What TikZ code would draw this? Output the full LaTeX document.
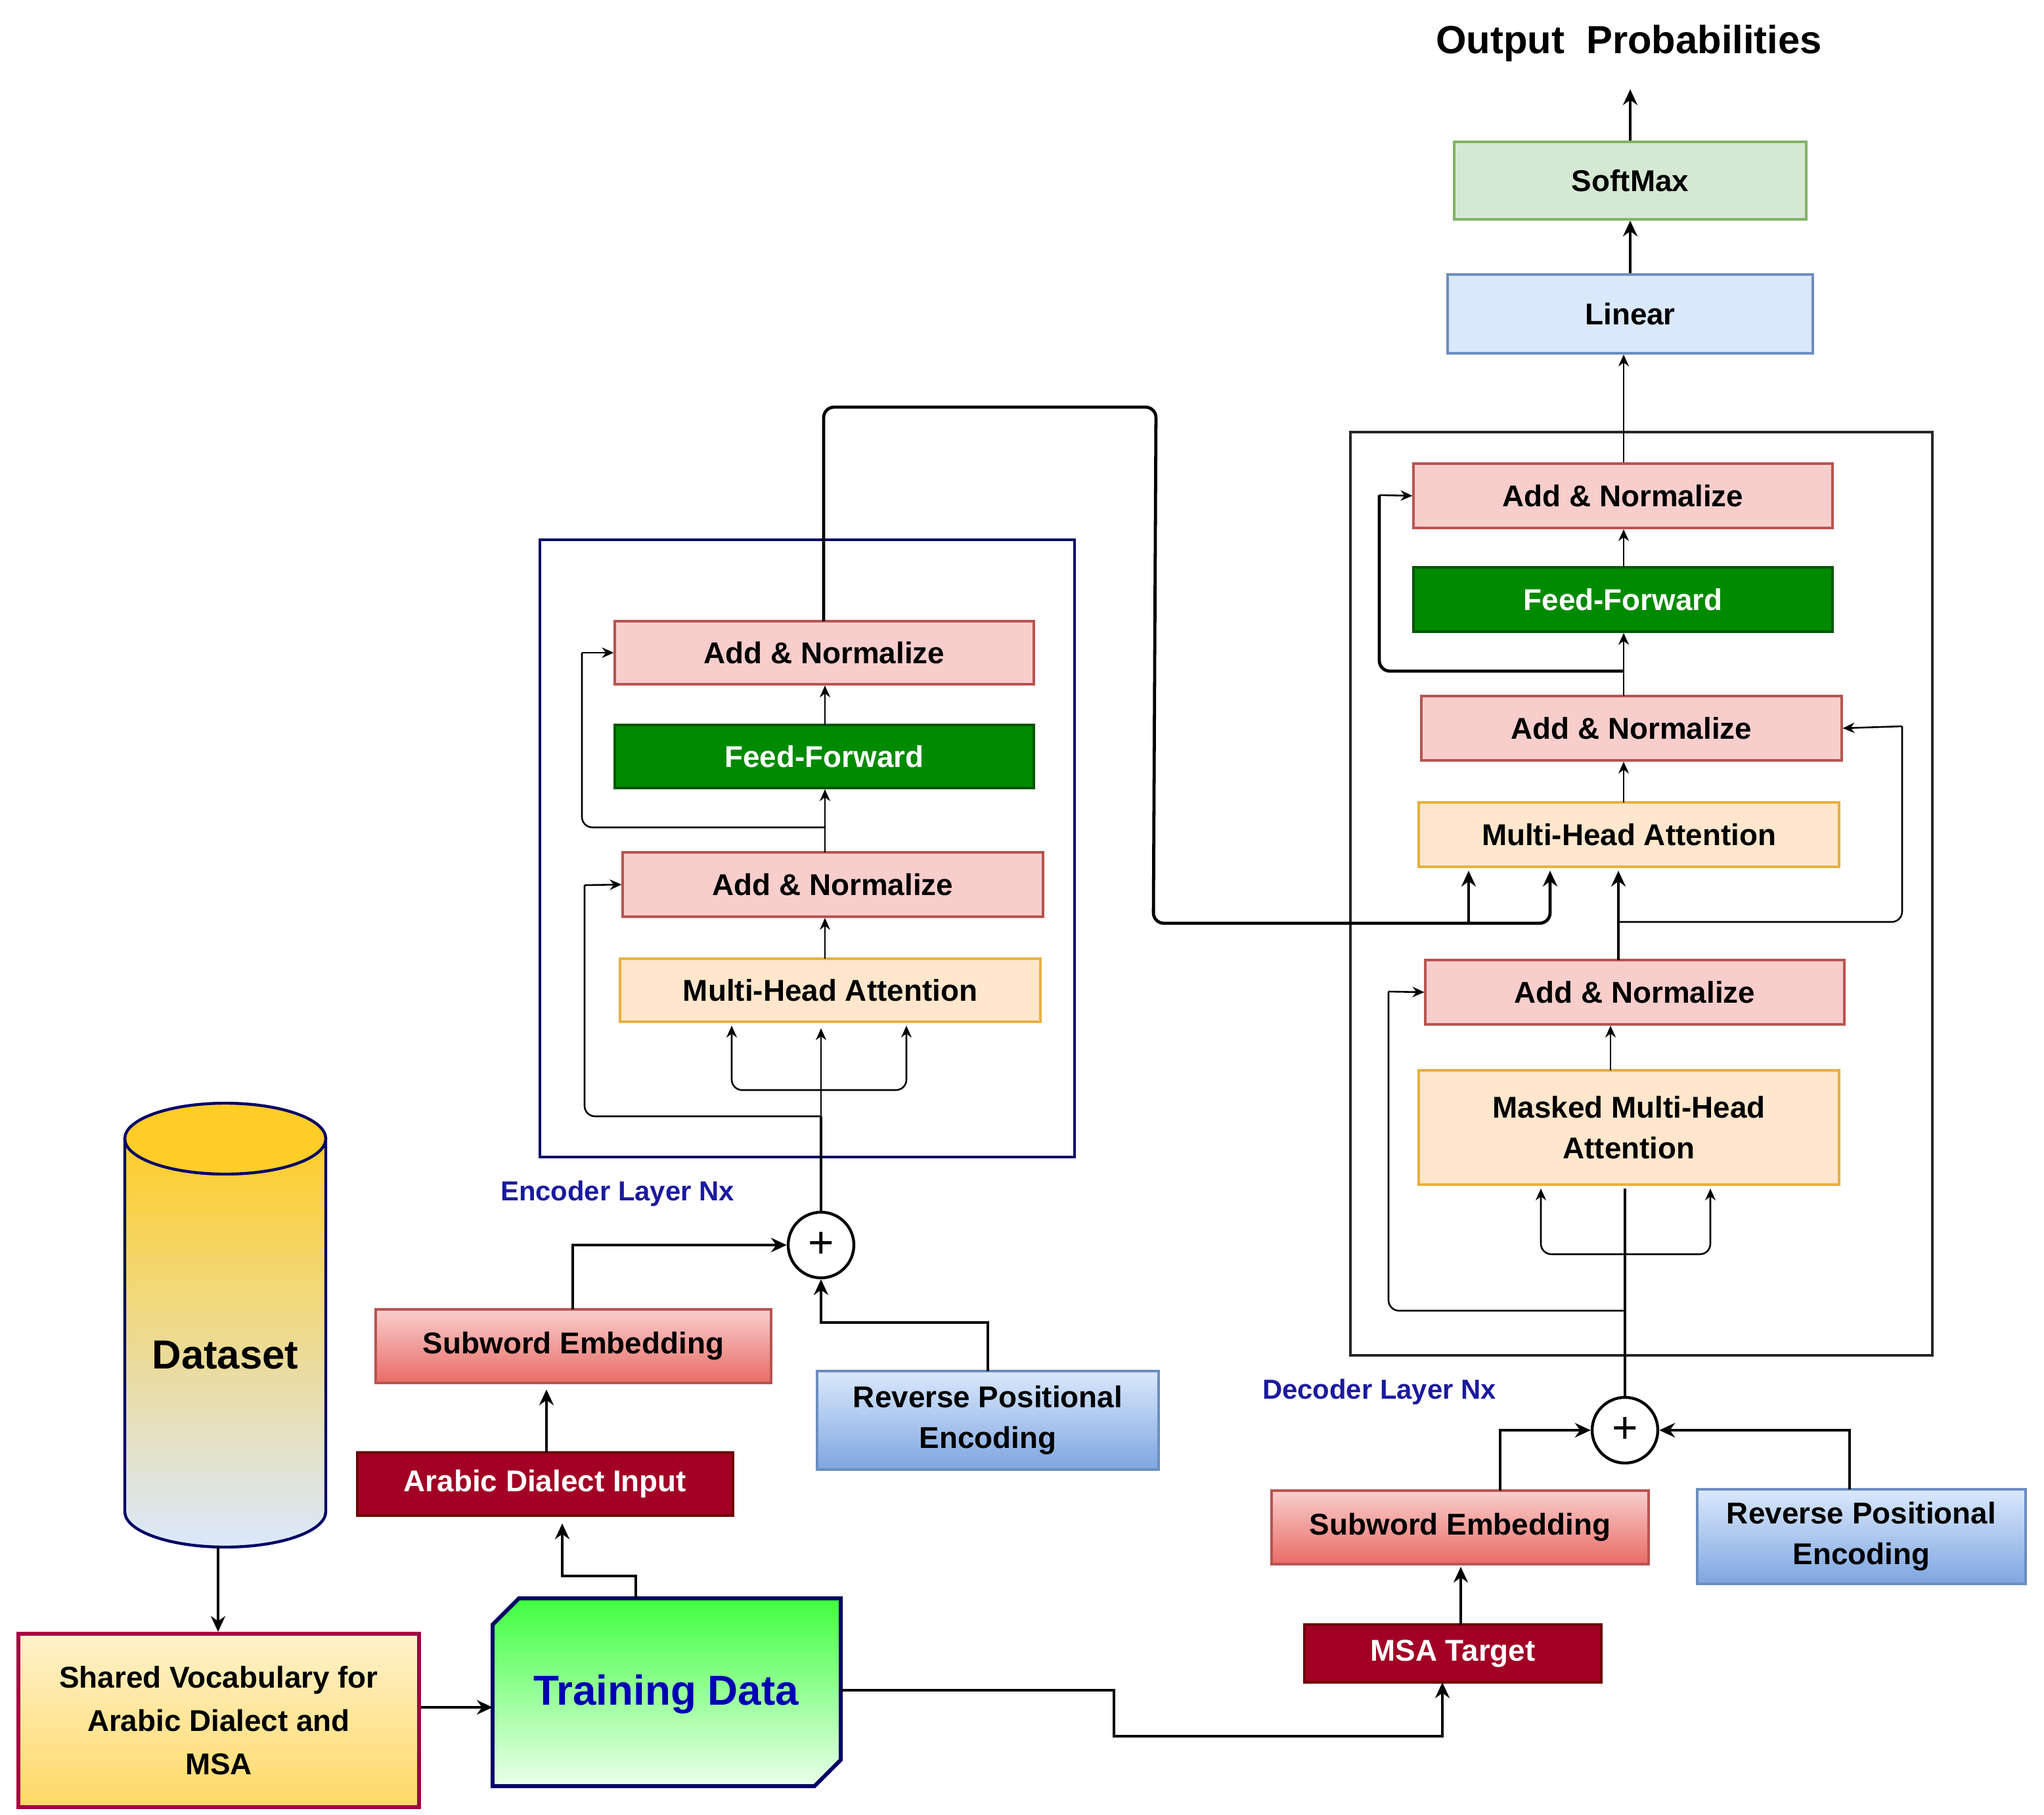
\documentclass[tikz,border=0pt]{standalone}
\usepackage{fontspec}
\setmainfont{Liberation Sans}
\usetikzlibrary{arrows.meta}
\definecolor{navy}{HTML}{000066}
\definecolor{dblue}{HTML}{1A1AA0}
\definecolor{anf}{HTML}{F8CECC}\definecolor{and}{HTML}{B85450}
\definecolor{mhf}{HTML}{FFE6CC}\definecolor{mhd}{HTML}{E8B040}
\definecolor{lbf}{HTML}{DAE8FC}\definecolor{lbd}{HTML}{6C8EBF}\definecolor{lbb}{HTML}{7EA6E0}
\definecolor{smf}{HTML}{D5E8D4}\definecolor{smd}{HTML}{82B366}
\definecolor{swb}{HTML}{EA6B66}
\definecolor{inpf}{HTML}{A20025}\definecolor{inpd}{HTML}{6F0000}
\definecolor{ffg}{HTML}{008A00}\definecolor{ffd}{HTML}{005700}
\definecolor{cyl}{HTML}{FFCD28}
\definecolor{svt}{HTML}{FFF2CC}\definecolor{svb}{HTML}{FFD966}\definecolor{svd}{HTML}{A50040}
\begin{document}
\begin{tikzpicture}[x=1bp,y=-1bp,
 every node/.style={font=\fontsize{23}{27}\selectfont\bfseries, inner sep=0pt, align=center},
 bx/.style args={#1/#2}{draw, line width=1.6pt, minimum width=#1bp, minimum height=#2bp},
 an/.style={bx=#1, fill=anf, draw=and},
 ff/.style={bx=#1, fill=ffg, draw=ffd, text=white},
 mh/.style={bx=#1, fill=mhf, draw=mhd},
 sw/.style={bx=#1, top color=anf, bottom color=swb, draw=and},
 rp/.style={bx=#1, top color=lbf, bottom color=lbb, draw=lbd},
 inp/.style={bx=#1, fill=inpf, draw=inpd, text=white},
 ar/.style={-{Stealth[length=12pt,width=11pt]}, line width=2.4pt},
 ta/.style={-{Stealth[length=9pt,width=8pt]}, line width=1.3pt},
 tl/.style={line width=1.3pt, rounded corners=8pt},
 tk/.style={line width=2.4pt, rounded corners=8pt}]
\useasboundingbox (0,0) rectangle (1556,1382);
% decoder side
\node[font=\fontsize{30}{34}\selectfont\bfseries] (out) at (1240,33) {Output\ \ Probabilities};
\node[bx=268/59, fill=smf, draw=smd, line width=2pt] (sm) at (1241,137.5) {SoftMax};
\node[bx=278/60, fill=lbf, draw=lbd, line width=2pt] (lin) at (1241,239) {Linear};
\node[draw=black!85, line width=2pt, minimum width=443bp, minimum height=703bp] (dfr) at (1249.5,680.5) {};
\node[an=319/49] (dan1) at (1235.5,377.5) {Add \& Normalize};
\node[ff=319/49] (dff) at (1235.5,456.5) {Feed-Forward};
\node[an=320/49] (dan2) at (1242,554.5) {Add \& Normalize};
\node[mh=320/49] (dmha) at (1240,635.5) {Multi-Head Attention};
\node[an=319/49] (dan3) at (1244.5,755.5) {Add \& Normalize};
\node[mh=320/87] (dmm) at (1240,858.5) {Masked Multi-Head\\[4pt]Attention};
\node[text=dblue, font=\fontsize{21}{25}\selectfont\bfseries] (dnx) at (1050,1060) {Decoder Layer Nx};
\node[circle, draw, line width=2.2pt, minimum size=50bp, fill=white, font=\fontsize{34}{34}\selectfont] (dp) at (1237,1089) {+};
\node[sw=287/56] (dsub) at (1111.5,1163) {Subword Embedding};
\node[rp=250/72] (drpe) at (1417,1170) {Reverse Positional\\[4pt]Encoding};
\node[inp=226/44] (msa) at (1106,1259) {MSA Target};
% encoder side
\node[draw=navy, line width=2.2pt, minimum width=407bp, minimum height=470bp] (efr) at (614.5,646) {};
\node[an=319/48] (ean1) at (627.5,497) {Add \& Normalize};
\node[ff=319/48] (eff) at (627.5,576) {Feed-Forward};
\node[an=320/49] (ean2) at (634,673.5) {Add \& Normalize};
\node[mh=320/48] (emha) at (632,754) {Multi-Head Attention};
\node[text=dblue, font=\fontsize{21}{25}\selectfont\bfseries] (enx) at (470,909) {Encoder Layer Nx};
\node[circle, draw, line width=2.2pt, minimum size=50bp, fill=white, font=\fontsize{34}{34}\selectfont] (ep) at (625,948) {+};
\node[sw=301/56] (esub) at (436.5,1025) {Subword Embedding};
\node[rp=260/75] (erpe) at (752,1081.5) {Reverse Positional\\[4pt]Encoding};
\node[inp=286/48] (adi) at (415,1130) {Arabic Dialect Input};
% dataset cylinder
\shade[top color=cyl, bottom color=lbf, draw=navy, line width=2.2pt]
 (95,867) -- (95,1151) arc[start angle=180, end angle=0, x radius=76.5, y radius=27] -- (248,867) -- cycle;
\filldraw[fill=cyl, draw=navy, line width=2.2pt] (171.5,867) ellipse[x radius=76.5, y radius=27];
\node[font=\fontsize{31}{35}\selectfont\bfseries] (ds) at (171.5,1032) {Dataset};
\coordinate (dsb) at (166,1178);
\node[bx=305/132, top color=svt, bottom color=svb, draw=svd, line width=3pt] (sv) at (166.5,1310) {Shared Vocabulary for\\[6pt]Arabic Dialect and\\[6pt]MSA};
\shade[top color=green!75, bottom color=green!8!white]
 (395,1217) -- (640,1217) -- (640,1340) -- (620,1360) -- (375,1360) -- (375,1237) -- cycle;
\draw[navy, line width=3pt] (395,1217) -- (640,1217) -- (640,1340) -- (620,1360) -- (375,1360) -- (375,1237) -- cycle;
\node[text=blue!70!black, font=\fontsize{32}{36}\selectfont\bfseries] (td) at (507,1290) {Training Data};
\coordinate (tdt) at (484,1217);
\coordinate (tdl) at (375,1300);
\coordinate (tdr) at (640,1287);
% connectors bottom
\draw[ar] (dsb) -- (sv.north -| dsb);
\draw[ar] (sv.east |- tdl) -- (tdl);
\draw[ar] (tdt) -- (484,1200) -- (428,1200) -- (428,1160);
\draw[ar] (416,1106) -- (416,1058);
\draw[ar] (436,997) -- (436,948) -- (ep.west);
\draw[ar] (752,1044) -- (752,1007) -- (625,1007) -- (ep.south);
\draw[ar] (tdr) -- (848,1287) -- (848,1322) -- (1098,1322) -- (1098,1281);
\draw[ar] (1112,1237) -- (1112,1193);
\draw[ar] (1142,1135) -- (1142,1089) -- (dp.west);
\draw[ar] (1408,1134) -- (1408,1089) -- (dp.east);
% encoder internals
\draw[line width=2.4pt] (ep.north) -- (625,850);
\draw[ta] (625,850) -- (625,783);
\draw[tl] (625,850) -- (445,850) -- (445,674);
\draw[ta] (445,674) -- (ean2.west);
\draw[tl,-{Stealth[length=9pt,width=8pt]}] (625,830) -- (557,830) -- (557,781);
\draw[tl,-{Stealth[length=9pt,width=8pt]}] (625,830) -- (690,830) -- (690,781);
\draw[ta] (628,730) -- (628,699);
\draw[ta] (628,649) -- (628,601);
\draw[tl] (628,630) -- (443,630) -- (443,497);
\draw[ta] (443,497) -- (ean1.west);
\draw[ta] (628,552) -- (628,522);
\draw[tk] (627,473) -- (627,310) -- (880,310) -- (878,703) -- (1180,703) -- (1180,670);
\draw[ar] (1180,690) -- (1180,663);
\draw[ar] (1118,703) -- (1118,663);
% decoder internals
\draw[line width=2.4pt] (dp.north) -- (1237,905);
\draw[tl,-{Stealth[length=9pt,width=8pt]}] (1237,955) -- (1173,955) -- (1173,905);
\draw[tl,-{Stealth[length=9pt,width=8pt]}] (1237,955) -- (1302,955) -- (1302,905);
\draw[tl] (1237,998) -- (1057,998) -- (1057,755);
\draw[ta] (1057,755) -- (dan3.west);
\draw[ta] (1226,815) -- (1226,781);
\draw[line width=2.4pt] (1232,731) -- (1232,690);
\draw[ar] (1232,700) -- (1232,663);
\draw[tl] (1232,702) -- (1448,702) -- (1448,553);
\draw[ta] (1448,553) -- (dan2.east);
\draw[ta] (1236,611) -- (1236,580);
\draw[ta] (1236,530) -- (1236,482);
\draw[tk] (1236,511) -- (1050,511) -- (1050,377);
\draw[ta] (1050,377) -- (dan1.west);
\draw[ta] (1236,432) -- (1236,403);
\draw[ta] (dan1.north -| 1236,0) -- (lin.south -| 1236,0);
\draw[ar] (lin.north) -- (sm.south);
\draw[ar] (sm.north) -- (1241,68);
\end{tikzpicture}
\end{document}
